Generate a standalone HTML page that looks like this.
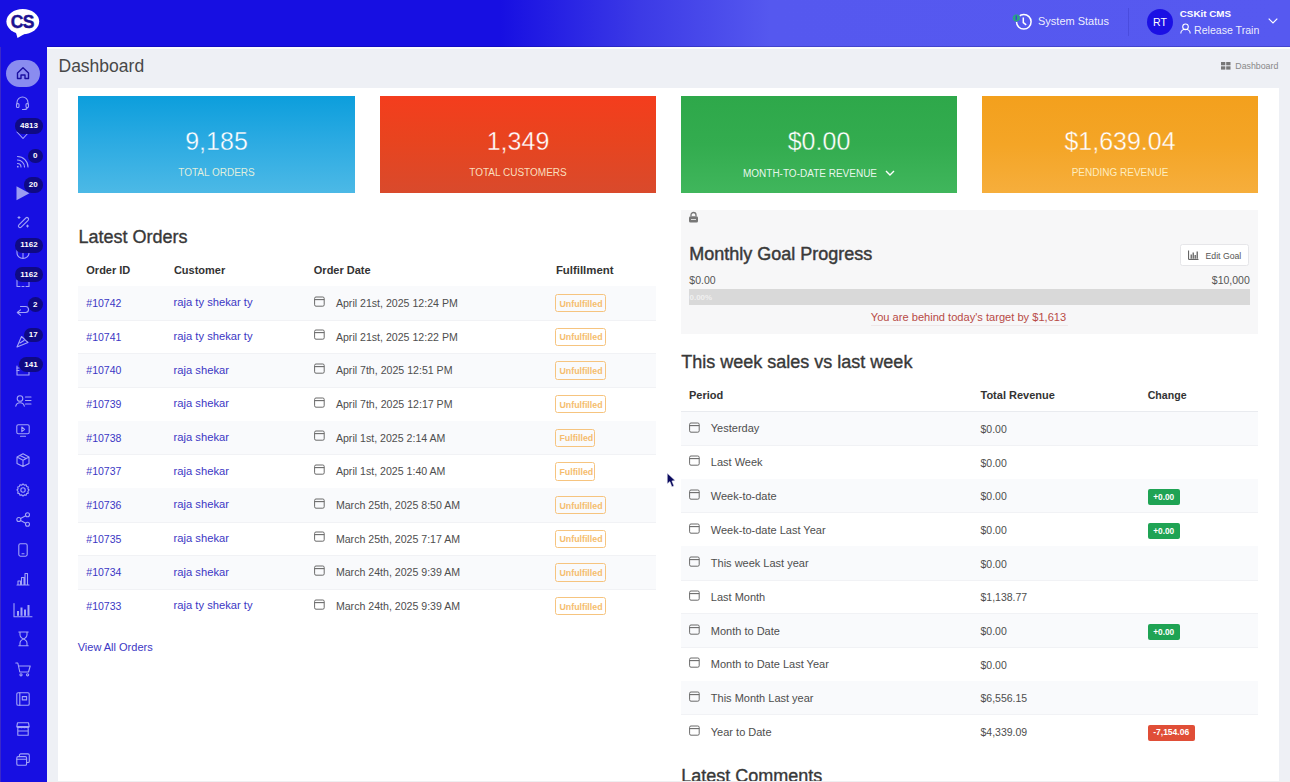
<!DOCTYPE html>
<html><head><meta charset="utf-8"><title>Dashboard</title><style>
*{margin:0;padding:0;box-sizing:border-box}
html,body{width:1290px;height:782px;overflow:hidden;background:#eef0f5;font-family:'Liberation Sans', sans-serif}
.t{position:absolute;white-space:nowrap;line-height:1}
.a{position:absolute}
svg{position:absolute;overflow:visible}
</style></head>
<body>
<div class="a" style="left:0;top:0;width:47px;height:782px;background:#170fe2"></div><div class="a" style="left:0;top:47px;width:1px;height:735px;background:#3a28c8"></div>
<div class="a" style="left:0;top:0;width:1290px;height:47px;background:linear-gradient(90deg,#170fe2 0px,#170fe2 500px,#3c3ae6 640px,#5558ef 770px,#5659f0 1290px)"></div>
<div class="a" style="left:47px;top:46px;width:1243px;height:1px;background:rgba(0,0,80,0.22)"></div><div class="a" style="left:47px;top:47px;width:1243px;height:1.5px;background:#fbfcfd"></div>
<svg style="left:0;top:0" width="47" height="47" viewBox="0 0 47 47">
<ellipse cx="22.8" cy="21.6" rx="16.4" ry="12.6" fill="#fff"/>
<path d="M15.5 31 L17.5 38 L27 32.5 Z" fill="#fff"/>
<text x="22.3" y="28.1" text-anchor="middle" font-family="Liberation Sans" font-weight="700" font-size="17.5" fill="#1c1290" stroke="#1c1290" stroke-width="0.45" letter-spacing="-0.6">CS</text>
</svg>
<div class="t" style="left:58.5px;top:57.69px;font-size:17.5px;color:#484848;font-weight:400;">Dashboard</div>
<svg style="left:1221px;top:62px" width="10" height="8" viewBox="0 0 10 8"><rect x="0" y="0" width="4.3" height="3.3" fill="#777"/><rect x="5.2" y="0" width="4.3" height="3.3" fill="#777"/><rect x="0" y="4.3" width="4.3" height="3.3" fill="#777"/><rect x="5.2" y="4.3" width="4.3" height="3.3" fill="#777"/></svg>
<div class="t" style="left:1235.3px;top:62.25px;font-size:8.8px;color:#888;font-weight:400;">Dashboard</div>
<div class="a" style="left:58px;top:88px;width:1220.5px;height:720px;background:#fff"></div>
<div class="a" style="left:78px;top:96px;width:277px;height:97px;background:linear-gradient(180deg,#0c9edc 0%,#2aaae2 45%,#4cb9e6 100%)"></div>
<div class="t" style="left:16.5px;width:400px;text-align:center;top:129.14px;font-size:25px;color:#fff;font-weight:400;-webkit-text-stroke:0.35px #26a8e1">9,185</div>
<div class="t" style="left:16.5px;width:400px;text-align:center;top:168.03px;font-size:10px;color:rgba(255,250,220,0.85);font-weight:400;">TOTAL ORDERS</div>
<div class="a" style="left:380px;top:96px;width:276px;height:97px;background:linear-gradient(180deg,#f43d1d 0%,#e8441f 45%,#d94a2c 100%)"></div>
<div class="t" style="left:318.0px;width:400px;text-align:center;top:129.14px;font-size:25px;color:#fff;font-weight:400;-webkit-text-stroke:0.35px #ea431f">1,349</div>
<div class="t" style="left:318.0px;width:400px;text-align:center;top:168.03px;font-size:10px;color:rgba(255,250,220,0.85);font-weight:400;">TOTAL CUSTOMERS</div>
<div class="a" style="left:681px;top:96px;width:276px;height:97px;background:linear-gradient(180deg,#2ea84a 0%,#33ac4f 50%,#40b65c 100%)"></div>
<div class="t" style="left:619.0px;width:400px;text-align:center;top:129.14px;font-size:25px;color:#fff;font-weight:400;-webkit-text-stroke:0.35px #32ab4e">$0.00</div>
<div class="t" style="left:610.0px;width:400px;text-align:center;top:168.94px;font-size:10px;color:rgba(255,255,255,0.9);font-weight:400;">MONTH-TO-DATE REVENUE</div>
<svg style="left:885px;top:170px" width="10" height="6" viewBox="0 0 10 6"><path d="M1 1 L5 5 L9 1" stroke="#fff" stroke-width="1.4" fill="none"/></svg>
<div class="a" style="left:982px;top:96px;width:276px;height:97px;background:linear-gradient(180deg,#f3a01d 0%,#f4a526 50%,#f6ae3c 100%)"></div>
<div class="t" style="left:920.0px;width:400px;text-align:center;top:129.14px;font-size:25px;color:#fff;font-weight:400;-webkit-text-stroke:0.35px #f4a425">$1,639.04</div>
<div class="t" style="left:920.0px;width:400px;text-align:center;top:168.03px;font-size:10px;color:rgba(255,250,220,0.85);font-weight:400;">PENDING REVENUE</div>
<div class="t" style="left:78.5px;top:228.06px;font-size:18px;color:#383838;font-weight:400;-webkit-text-stroke:0.35px #383838">Latest Orders</div>
<div class="t" style="left:86.3px;top:264.69px;font-size:11px;color:#333;font-weight:700;">Order ID</div>
<div class="t" style="left:173.9px;top:264.69px;font-size:11px;color:#333;font-weight:700;">Customer</div>
<div class="t" style="left:313.8px;top:264.69px;font-size:11px;color:#333;font-weight:700;">Order Date</div>
<div class="t" style="left:555.9px;top:265.15px;font-size:11.4px;color:#333;font-weight:700;">Fulfillment</div>
<div class="a" style="left:78px;top:285.9px;width:578px;height:1px;background:#e9ebef"></div>
<div class="a" style="left:78px;top:286.40px;width:578px;height:33.67px;background:#f9fafc"></div>
<div class="a" style="left:78px;top:319.57px;width:578px;height:1px;background:#f1f2f5"></div>
<div class="t" style="left:86.3px;top:297.91px;font-size:10.5px;color:#3b37c4;font-weight:400;">#10742</div>
<div class="t" style="left:173.6px;top:297.32px;font-size:11.2px;color:#3b37c4;font-weight:400;">raja ty shekar ty</div>
<svg style="left:314px;top:295.6px" width="11" height="11" viewBox="0 0 11 11"><rect x="0.6" y="1.0" width="9.6" height="9.2" rx="1.4" fill="none" stroke="#6a6a6a" stroke-width="1"/><line x1="0.6" y1="3.6" x2="10.2" y2="3.6" stroke="#6a6a6a" stroke-width="1.1"/></svg>
<div class="t" style="left:335.9px;top:297.83px;font-size:10.6px;color:#4e4e4e;font-weight:400;">April 21st, 2025 12:24 PM</div>
<div class="a" style="left:555.3px;top:294.00px;width:50.3px;height:18.4px;border:1px solid #f6c47f;border-radius:2.5px"></div>
<div class="t" style="left:559.5px;top:299.65px;font-size:8.8px;color:#f5bd6e;font-weight:700;">Unfulfilled</div>
<div class="a" style="left:78px;top:353.24px;width:578px;height:1px;background:#f1f2f5"></div>
<div class="t" style="left:86.3px;top:331.58px;font-size:10.5px;color:#3b37c4;font-weight:400;">#10741</div>
<div class="t" style="left:173.6px;top:330.99px;font-size:11.2px;color:#3b37c4;font-weight:400;">raja ty shekar ty</div>
<svg style="left:314px;top:329.27000000000004px" width="11" height="11" viewBox="0 0 11 11"><rect x="0.6" y="1.0" width="9.6" height="9.2" rx="1.4" fill="none" stroke="#6a6a6a" stroke-width="1"/><line x1="0.6" y1="3.6" x2="10.2" y2="3.6" stroke="#6a6a6a" stroke-width="1.1"/></svg>
<div class="t" style="left:335.9px;top:331.50px;font-size:10.6px;color:#4e4e4e;font-weight:400;">April 21st, 2025 12:22 PM</div>
<div class="a" style="left:555.3px;top:327.67px;width:50.3px;height:18.4px;border:1px solid #f6c47f;border-radius:2.5px"></div>
<div class="t" style="left:559.5px;top:333.32px;font-size:8.8px;color:#f5bd6e;font-weight:700;">Unfulfilled</div>
<div class="a" style="left:78px;top:353.74px;width:578px;height:33.67px;background:#f9fafc"></div>
<div class="a" style="left:78px;top:386.91px;width:578px;height:1px;background:#f1f2f5"></div>
<div class="t" style="left:86.3px;top:365.25px;font-size:10.5px;color:#3b37c4;font-weight:400;">#10740</div>
<div class="t" style="left:173.6px;top:364.66px;font-size:11.2px;color:#3b37c4;font-weight:400;">raja shekar</div>
<svg style="left:314px;top:362.94px" width="11" height="11" viewBox="0 0 11 11"><rect x="0.6" y="1.0" width="9.6" height="9.2" rx="1.4" fill="none" stroke="#6a6a6a" stroke-width="1"/><line x1="0.6" y1="3.6" x2="10.2" y2="3.6" stroke="#6a6a6a" stroke-width="1.1"/></svg>
<div class="t" style="left:335.9px;top:365.17px;font-size:10.6px;color:#4e4e4e;font-weight:400;">April 7th, 2025 12:51 PM</div>
<div class="a" style="left:555.3px;top:361.34px;width:50.3px;height:18.4px;border:1px solid #f6c47f;border-radius:2.5px"></div>
<div class="t" style="left:559.5px;top:366.99px;font-size:8.8px;color:#f5bd6e;font-weight:700;">Unfulfilled</div>
<div class="a" style="left:78px;top:420.58px;width:578px;height:1px;background:#f1f2f5"></div>
<div class="t" style="left:86.3px;top:398.92px;font-size:10.5px;color:#3b37c4;font-weight:400;">#10739</div>
<div class="t" style="left:173.6px;top:398.33px;font-size:11.2px;color:#3b37c4;font-weight:400;">raja shekar</div>
<svg style="left:314px;top:396.61px" width="11" height="11" viewBox="0 0 11 11"><rect x="0.6" y="1.0" width="9.6" height="9.2" rx="1.4" fill="none" stroke="#6a6a6a" stroke-width="1"/><line x1="0.6" y1="3.6" x2="10.2" y2="3.6" stroke="#6a6a6a" stroke-width="1.1"/></svg>
<div class="t" style="left:335.9px;top:398.84px;font-size:10.6px;color:#4e4e4e;font-weight:400;">April 7th, 2025 12:17 PM</div>
<div class="a" style="left:555.3px;top:395.01px;width:50.3px;height:18.4px;border:1px solid #f6c47f;border-radius:2.5px"></div>
<div class="t" style="left:559.5px;top:400.66px;font-size:8.8px;color:#f5bd6e;font-weight:700;">Unfulfilled</div>
<div class="a" style="left:78px;top:421.08px;width:578px;height:33.67px;background:#f9fafc"></div>
<div class="a" style="left:78px;top:454.25px;width:578px;height:1px;background:#f1f2f5"></div>
<div class="t" style="left:86.3px;top:432.59px;font-size:10.5px;color:#3b37c4;font-weight:400;">#10738</div>
<div class="t" style="left:173.6px;top:432.00px;font-size:11.2px;color:#3b37c4;font-weight:400;">raja shekar</div>
<svg style="left:314px;top:430.28000000000003px" width="11" height="11" viewBox="0 0 11 11"><rect x="0.6" y="1.0" width="9.6" height="9.2" rx="1.4" fill="none" stroke="#6a6a6a" stroke-width="1"/><line x1="0.6" y1="3.6" x2="10.2" y2="3.6" stroke="#6a6a6a" stroke-width="1.1"/></svg>
<div class="t" style="left:335.9px;top:432.51px;font-size:10.6px;color:#4e4e4e;font-weight:400;">April 1st, 2025 2:14 AM</div>
<div class="a" style="left:555.3px;top:428.68px;width:40px;height:18.4px;border:1px solid #f6c47f;border-radius:2.5px"></div>
<div class="t" style="left:559.5px;top:434.33px;font-size:8.8px;color:#f5bd6e;font-weight:700;">Fulfilled</div>
<div class="a" style="left:78px;top:487.92px;width:578px;height:1px;background:#f1f2f5"></div>
<div class="t" style="left:86.3px;top:466.26px;font-size:10.5px;color:#3b37c4;font-weight:400;">#10737</div>
<div class="t" style="left:173.6px;top:465.67px;font-size:11.2px;color:#3b37c4;font-weight:400;">raja shekar</div>
<svg style="left:314px;top:463.95000000000005px" width="11" height="11" viewBox="0 0 11 11"><rect x="0.6" y="1.0" width="9.6" height="9.2" rx="1.4" fill="none" stroke="#6a6a6a" stroke-width="1"/><line x1="0.6" y1="3.6" x2="10.2" y2="3.6" stroke="#6a6a6a" stroke-width="1.1"/></svg>
<div class="t" style="left:335.9px;top:466.18px;font-size:10.6px;color:#4e4e4e;font-weight:400;">April 1st, 2025 1:40 AM</div>
<div class="a" style="left:555.3px;top:462.35px;width:40px;height:18.4px;border:1px solid #f6c47f;border-radius:2.5px"></div>
<div class="t" style="left:559.5px;top:468.00px;font-size:8.8px;color:#f5bd6e;font-weight:700;">Fulfilled</div>
<div class="a" style="left:78px;top:488.42px;width:578px;height:33.67px;background:#f9fafc"></div>
<div class="a" style="left:78px;top:521.59px;width:578px;height:1px;background:#f1f2f5"></div>
<div class="t" style="left:86.3px;top:499.93px;font-size:10.5px;color:#3b37c4;font-weight:400;">#10736</div>
<div class="t" style="left:173.6px;top:499.34px;font-size:11.2px;color:#3b37c4;font-weight:400;">raja shekar</div>
<svg style="left:314px;top:497.62000000000006px" width="11" height="11" viewBox="0 0 11 11"><rect x="0.6" y="1.0" width="9.6" height="9.2" rx="1.4" fill="none" stroke="#6a6a6a" stroke-width="1"/><line x1="0.6" y1="3.6" x2="10.2" y2="3.6" stroke="#6a6a6a" stroke-width="1.1"/></svg>
<div class="t" style="left:335.9px;top:499.85px;font-size:10.6px;color:#4e4e4e;font-weight:400;">March 25th, 2025 8:50 AM</div>
<div class="a" style="left:555.3px;top:496.02px;width:50.3px;height:18.4px;border:1px solid #f6c47f;border-radius:2.5px"></div>
<div class="t" style="left:559.5px;top:501.67px;font-size:8.8px;color:#f5bd6e;font-weight:700;">Unfulfilled</div>
<div class="a" style="left:78px;top:555.26px;width:578px;height:1px;background:#f1f2f5"></div>
<div class="t" style="left:86.3px;top:533.60px;font-size:10.5px;color:#3b37c4;font-weight:400;">#10735</div>
<div class="t" style="left:173.6px;top:533.01px;font-size:11.2px;color:#3b37c4;font-weight:400;">raja shekar</div>
<svg style="left:314px;top:531.29px" width="11" height="11" viewBox="0 0 11 11"><rect x="0.6" y="1.0" width="9.6" height="9.2" rx="1.4" fill="none" stroke="#6a6a6a" stroke-width="1"/><line x1="0.6" y1="3.6" x2="10.2" y2="3.6" stroke="#6a6a6a" stroke-width="1.1"/></svg>
<div class="t" style="left:335.9px;top:533.52px;font-size:10.6px;color:#4e4e4e;font-weight:400;">March 25th, 2025 7:17 AM</div>
<div class="a" style="left:555.3px;top:529.69px;width:50.3px;height:18.4px;border:1px solid #f6c47f;border-radius:2.5px"></div>
<div class="t" style="left:559.5px;top:535.34px;font-size:8.8px;color:#f5bd6e;font-weight:700;">Unfulfilled</div>
<div class="a" style="left:78px;top:555.76px;width:578px;height:33.67px;background:#f9fafc"></div>
<div class="a" style="left:78px;top:588.93px;width:578px;height:1px;background:#f1f2f5"></div>
<div class="t" style="left:86.3px;top:567.27px;font-size:10.5px;color:#3b37c4;font-weight:400;">#10734</div>
<div class="t" style="left:173.6px;top:566.68px;font-size:11.2px;color:#3b37c4;font-weight:400;">raja shekar</div>
<svg style="left:314px;top:564.96px" width="11" height="11" viewBox="0 0 11 11"><rect x="0.6" y="1.0" width="9.6" height="9.2" rx="1.4" fill="none" stroke="#6a6a6a" stroke-width="1"/><line x1="0.6" y1="3.6" x2="10.2" y2="3.6" stroke="#6a6a6a" stroke-width="1.1"/></svg>
<div class="t" style="left:335.9px;top:567.19px;font-size:10.6px;color:#4e4e4e;font-weight:400;">March 24th, 2025 9:39 AM</div>
<div class="a" style="left:555.3px;top:563.36px;width:50.3px;height:18.4px;border:1px solid #f6c47f;border-radius:2.5px"></div>
<div class="t" style="left:559.5px;top:569.01px;font-size:8.8px;color:#f5bd6e;font-weight:700;">Unfulfilled</div>
<div class="t" style="left:86.3px;top:600.94px;font-size:10.5px;color:#3b37c4;font-weight:400;">#10733</div>
<div class="t" style="left:173.6px;top:600.35px;font-size:11.2px;color:#3b37c4;font-weight:400;">raja ty shekar ty</div>
<svg style="left:314px;top:598.63px" width="11" height="11" viewBox="0 0 11 11"><rect x="0.6" y="1.0" width="9.6" height="9.2" rx="1.4" fill="none" stroke="#6a6a6a" stroke-width="1"/><line x1="0.6" y1="3.6" x2="10.2" y2="3.6" stroke="#6a6a6a" stroke-width="1.1"/></svg>
<div class="t" style="left:335.9px;top:600.86px;font-size:10.6px;color:#4e4e4e;font-weight:400;">March 24th, 2025 9:39 AM</div>
<div class="a" style="left:555.3px;top:597.03px;width:50.3px;height:18.4px;border:1px solid #f6c47f;border-radius:2.5px"></div>
<div class="t" style="left:559.5px;top:602.68px;font-size:8.8px;color:#f5bd6e;font-weight:700;">Unfulfilled</div>
<div class="t" style="left:77.7px;top:641.59px;font-size:11px;color:#3b37c4;font-weight:400;">View All Orders</div>
<div class="a" style="left:680.5px;top:209.8px;width:577.5px;height:124.5px;background:#f7f7f8"></div>
<svg style="left:688px;top:212px" width="11" height="11" viewBox="0 0 11 11"><path d="M3 4.2 V3 a2.5 2.5 0 0 1 5 0 V4.2" stroke="#777" stroke-width="1.3" fill="none"/><rect x="1" y="4.2" width="9" height="6.3" rx="1.5" fill="#777"/><rect x="3" y="7" width="5" height="1" fill="#ddd"/></svg>
<div class="t" style="left:689.3px;top:244.76px;font-size:18px;color:#3a3a3a;font-weight:400;-webkit-text-stroke:0.45px #3a3a3a">Monthly Goal Progress</div>
<div class="a" style="left:1180.4px;top:243.6px;width:69px;height:22.7px;background:#fff;border:1px solid #e6e6e9;border-radius:2.5px"></div>
<svg style="left:1188px;top:250px" width="11" height="10" viewBox="0 0 11 10"><path d="M0.6 0.5 V9.4 H10.5" stroke="#555" stroke-width="1" fill="none"/><rect x="2.6" y="4.5" width="1.2" height="4.2" fill="#555"/><rect x="4.6" y="2.5" width="1.2" height="6.2" fill="#555"/><rect x="6.6" y="5" width="1.2" height="3.7" fill="#555"/><rect x="8.6" y="1.5" width="1.2" height="7.2" fill="#555"/></svg>
<div class="t" style="left:1205.5px;top:251.64px;font-size:8.7px;color:#555;font-weight:400;">Edit Goal</div>
<div class="t" style="left:689.3px;top:275.21px;font-size:10.5px;color:#555;font-weight:400;">$0.00</div>
<div class="t" style="right:40.200000000000045px;top:275.21px;font-size:10.5px;color:#555;font-weight:400;text-align:right;">$10,000</div>
<div class="a" style="left:689px;top:289px;width:560.5px;height:15.7px;background:#d9d9d9"></div>
<div class="t" style="left:689.5px;top:293.53px;font-size:8px;color:rgba(255,255,255,0.6);font-weight:700;">0.00%</div>
<div class="t" style="left:768.5px;width:400px;text-align:center;top:312.40px;font-size:11.1px;color:#b84a45;font-weight:400;">You are behind today's target by $1,613</div>
<div class="a" style="left:871px;top:325px;width:197px;height:1px;background:#eee7e7"></div>
<div class="t" style="left:681.3px;top:353.06px;font-size:18px;color:#383838;font-weight:400;-webkit-text-stroke:0.35px #383838">This week sales vs last week</div>
<div class="t" style="left:689px;top:389.69px;font-size:11px;color:#333;font-weight:700;">Period</div>
<div class="t" style="left:980.5px;top:389.69px;font-size:11px;color:#333;font-weight:700;">Total Revenue</div>
<div class="t" style="left:1147.7px;top:390.03px;font-size:10.6px;color:#333;font-weight:700;">Change</div>
<div class="a" style="left:681px;top:411.2px;width:577px;height:1px;background:#e9ebef"></div>
<div class="a" style="left:681px;top:411.70px;width:577px;height:33.67px;background:#f9fafc"></div>
<div class="a" style="left:681px;top:444.87px;width:577px;height:1px;background:#f1f2f5"></div>
<svg style="left:689px;top:421.6px" width="11" height="11" viewBox="0 0 11 11"><rect x="0.6" y="1.0" width="9.6" height="9.2" rx="1.4" fill="none" stroke="#6a6a6a" stroke-width="1"/><line x1="0.6" y1="3.6" x2="10.2" y2="3.6" stroke="#6a6a6a" stroke-width="1.1"/></svg>
<div class="t" style="left:710.8px;top:423.49px;font-size:11px;color:#4e4e4e;font-weight:400;">Yesterday</div>
<div class="t" style="left:980.5px;top:423.91px;font-size:10.5px;color:#4e4e4e;font-weight:400;">$0.00</div>
<div class="a" style="left:681px;top:478.54px;width:577px;height:1px;background:#f1f2f5"></div>
<svg style="left:689px;top:455.27000000000004px" width="11" height="11" viewBox="0 0 11 11"><rect x="0.6" y="1.0" width="9.6" height="9.2" rx="1.4" fill="none" stroke="#6a6a6a" stroke-width="1"/><line x1="0.6" y1="3.6" x2="10.2" y2="3.6" stroke="#6a6a6a" stroke-width="1.1"/></svg>
<div class="t" style="left:710.8px;top:457.16px;font-size:11px;color:#4e4e4e;font-weight:400;">Last Week</div>
<div class="t" style="left:980.5px;top:457.58px;font-size:10.5px;color:#4e4e4e;font-weight:400;">$0.00</div>
<div class="a" style="left:681px;top:479.04px;width:577px;height:33.67px;background:#f9fafc"></div>
<div class="a" style="left:681px;top:512.21px;width:577px;height:1px;background:#f1f2f5"></div>
<svg style="left:689px;top:488.94px" width="11" height="11" viewBox="0 0 11 11"><rect x="0.6" y="1.0" width="9.6" height="9.2" rx="1.4" fill="none" stroke="#6a6a6a" stroke-width="1"/><line x1="0.6" y1="3.6" x2="10.2" y2="3.6" stroke="#6a6a6a" stroke-width="1.1"/></svg>
<div class="t" style="left:710.8px;top:490.83px;font-size:11px;color:#4e4e4e;font-weight:400;">Week-to-date</div>
<div class="t" style="left:980.5px;top:491.25px;font-size:10.5px;color:#4e4e4e;font-weight:400;">$0.00</div>
<div class="a" style="left:1147.7px;top:488.94px;width:32px;height:16px;background:#1fa354;border-radius:2px"></div>
<div class="t" style="left:963.7px;width:400px;text-align:center;top:492.91px;font-size:8.3px;color:#fff;font-weight:700;">+0.00</div>
<div class="a" style="left:681px;top:545.88px;width:577px;height:1px;background:#f1f2f5"></div>
<svg style="left:689px;top:522.61px" width="11" height="11" viewBox="0 0 11 11"><rect x="0.6" y="1.0" width="9.6" height="9.2" rx="1.4" fill="none" stroke="#6a6a6a" stroke-width="1"/><line x1="0.6" y1="3.6" x2="10.2" y2="3.6" stroke="#6a6a6a" stroke-width="1.1"/></svg>
<div class="t" style="left:710.8px;top:524.50px;font-size:11px;color:#4e4e4e;font-weight:400;">Week-to-date Last Year</div>
<div class="t" style="left:980.5px;top:524.92px;font-size:10.5px;color:#4e4e4e;font-weight:400;">$0.00</div>
<div class="a" style="left:1147.7px;top:522.61px;width:32px;height:16px;background:#1fa354;border-radius:2px"></div>
<div class="t" style="left:963.7px;width:400px;text-align:center;top:526.58px;font-size:8.3px;color:#fff;font-weight:700;">+0.00</div>
<div class="a" style="left:681px;top:546.38px;width:577px;height:33.67px;background:#f9fafc"></div>
<div class="a" style="left:681px;top:579.55px;width:577px;height:1px;background:#f1f2f5"></div>
<svg style="left:689px;top:556.28px" width="11" height="11" viewBox="0 0 11 11"><rect x="0.6" y="1.0" width="9.6" height="9.2" rx="1.4" fill="none" stroke="#6a6a6a" stroke-width="1"/><line x1="0.6" y1="3.6" x2="10.2" y2="3.6" stroke="#6a6a6a" stroke-width="1.1"/></svg>
<div class="t" style="left:710.8px;top:558.17px;font-size:11px;color:#4e4e4e;font-weight:400;">This week Last year</div>
<div class="t" style="left:980.5px;top:558.59px;font-size:10.5px;color:#4e4e4e;font-weight:400;">$0.00</div>
<div class="a" style="left:681px;top:613.22px;width:577px;height:1px;background:#f1f2f5"></div>
<svg style="left:689px;top:589.95px" width="11" height="11" viewBox="0 0 11 11"><rect x="0.6" y="1.0" width="9.6" height="9.2" rx="1.4" fill="none" stroke="#6a6a6a" stroke-width="1"/><line x1="0.6" y1="3.6" x2="10.2" y2="3.6" stroke="#6a6a6a" stroke-width="1.1"/></svg>
<div class="t" style="left:710.8px;top:591.84px;font-size:11px;color:#4e4e4e;font-weight:400;">Last Month</div>
<div class="t" style="left:980.5px;top:592.26px;font-size:10.5px;color:#4e4e4e;font-weight:400;">$1,138.77</div>
<div class="a" style="left:681px;top:613.72px;width:577px;height:33.67px;background:#f9fafc"></div>
<div class="a" style="left:681px;top:646.89px;width:577px;height:1px;background:#f1f2f5"></div>
<svg style="left:689px;top:623.62px" width="11" height="11" viewBox="0 0 11 11"><rect x="0.6" y="1.0" width="9.6" height="9.2" rx="1.4" fill="none" stroke="#6a6a6a" stroke-width="1"/><line x1="0.6" y1="3.6" x2="10.2" y2="3.6" stroke="#6a6a6a" stroke-width="1.1"/></svg>
<div class="t" style="left:710.8px;top:625.51px;font-size:11px;color:#4e4e4e;font-weight:400;">Month to Date</div>
<div class="t" style="left:980.5px;top:625.93px;font-size:10.5px;color:#4e4e4e;font-weight:400;">$0.00</div>
<div class="a" style="left:1147.7px;top:623.62px;width:32px;height:16px;background:#1fa354;border-radius:2px"></div>
<div class="t" style="left:963.7px;width:400px;text-align:center;top:627.59px;font-size:8.3px;color:#fff;font-weight:700;">+0.00</div>
<div class="a" style="left:681px;top:680.56px;width:577px;height:1px;background:#f1f2f5"></div>
<svg style="left:689px;top:657.29px" width="11" height="11" viewBox="0 0 11 11"><rect x="0.6" y="1.0" width="9.6" height="9.2" rx="1.4" fill="none" stroke="#6a6a6a" stroke-width="1"/><line x1="0.6" y1="3.6" x2="10.2" y2="3.6" stroke="#6a6a6a" stroke-width="1.1"/></svg>
<div class="t" style="left:710.8px;top:659.18px;font-size:11px;color:#4e4e4e;font-weight:400;">Month to Date Last Year</div>
<div class="t" style="left:980.5px;top:659.60px;font-size:10.5px;color:#4e4e4e;font-weight:400;">$0.00</div>
<div class="a" style="left:681px;top:681.06px;width:577px;height:33.67px;background:#f9fafc"></div>
<div class="a" style="left:681px;top:714.23px;width:577px;height:1px;background:#f1f2f5"></div>
<svg style="left:689px;top:690.96px" width="11" height="11" viewBox="0 0 11 11"><rect x="0.6" y="1.0" width="9.6" height="9.2" rx="1.4" fill="none" stroke="#6a6a6a" stroke-width="1"/><line x1="0.6" y1="3.6" x2="10.2" y2="3.6" stroke="#6a6a6a" stroke-width="1.1"/></svg>
<div class="t" style="left:710.8px;top:692.85px;font-size:11px;color:#4e4e4e;font-weight:400;">This Month Last year</div>
<div class="t" style="left:980.5px;top:693.27px;font-size:10.5px;color:#4e4e4e;font-weight:400;">$6,556.15</div>
<svg style="left:689px;top:724.63px" width="11" height="11" viewBox="0 0 11 11"><rect x="0.6" y="1.0" width="9.6" height="9.2" rx="1.4" fill="none" stroke="#6a6a6a" stroke-width="1"/><line x1="0.6" y1="3.6" x2="10.2" y2="3.6" stroke="#6a6a6a" stroke-width="1.1"/></svg>
<div class="t" style="left:710.8px;top:726.52px;font-size:11px;color:#4e4e4e;font-weight:400;">Year to Date</div>
<div class="t" style="left:980.5px;top:726.94px;font-size:10.5px;color:#4e4e4e;font-weight:400;">$4,339.09</div>
<div class="a" style="left:1147.7px;top:724.63px;width:47.6px;height:16px;background:#e04e37;border-radius:2px"></div>
<div class="t" style="left:971.2px;width:400px;text-align:center;top:728.43px;font-size:8.5px;color:#fff;font-weight:700;">-7,154.06</div>
<div class="t" style="left:681.3px;top:767.26px;font-size:18px;color:#383838;font-weight:400;-webkit-text-stroke:0.35px #383838">Latest Comments</div>
<svg style="left:1011px;top:12px" width="22" height="19" viewBox="0 0 22 19">
<circle cx="12.8" cy="9.8" r="7.3" stroke="#fff" stroke-width="1.5" fill="none"/>
<path d="M12.3 5.6 V10.6 L15.2 12.9" stroke="#fff" stroke-width="1.5" fill="none"/>
<circle cx="5.3" cy="6" r="4" fill="#5559ef"/>
<circle cx="5.3" cy="6" r="3.3" fill="#29a383" stroke="#2fb07a" stroke-width="1" stroke-dasharray="1 1"/>
<rect x="4.6" y="3.6" width="1.4" height="4.2" fill="#3b3fd8"/>
</svg>
<div class="t" style="left:1038px;top:16.49px;font-size:11px;color:rgba(255,255,255,0.92);font-weight:400;">System Status</div>
<div class="a" style="left:1128px;top:8px;width:1px;height:28px;background:rgba(60,60,200,0.45)"></div>
<div class="a" style="left:1147px;top:9px;width:26px;height:26px;border-radius:50%;background:#1b10e4"></div>
<div class="t" style="left:960px;width:400px;text-align:center;top:17.11px;font-size:10.5px;color:#fff;font-weight:400;">RT</div>
<div class="t" style="left:1179.8px;top:9.20px;font-size:9.8px;color:#fff;font-weight:700;">CSKit CMS</div>
<svg style="left:1180px;top:23px" width="11" height="11" viewBox="0 0 11 11"><circle cx="5.5" cy="3.8" r="2.8" stroke="#fff" stroke-width="1.1" fill="none"/><path d="M0.8 10.5 a4.7 4.2 0 0 1 9.4 0" stroke="#fff" stroke-width="1.1" fill="none"/></svg>
<div class="t" style="left:1194px;top:25.23px;font-size:10.6px;color:rgba(255,255,255,0.9);font-weight:400;">Release Train</div>
<svg style="left:1268px;top:18px" width="10" height="6" viewBox="0 0 10 6"><path d="M0.7 0.7 L5 5 L9.3 0.7" stroke="#fff" stroke-width="1.2" fill="none"/></svg>
<div class="a" style="left:6px;top:60px;width:34px;height:27px;border-radius:13.5px;background:#8a8cf0"></div>
<svg style="left:16px;top:66px" width="14" height="14" viewBox="0 0 14 14"><path d="M1.5 7 L7 1.8 L12.5 7 V12.5 H9 V9 H5 V12.5 H1.5 Z" stroke="#1b10a0" stroke-width="1.4" fill="none" stroke-linejoin="round"/></svg>
<svg style="left:15px;top:96px" width="15" height="15" viewBox="0 0 15 15"><path d="M2 8 V6.5 a5.5 5.5 0 0 1 11 0 V8" stroke="#a3a4f7" stroke-width="1.1" fill="none" stroke-linecap="round" stroke-linejoin="round"/><rect x="1.5" y="7.5" width="2.5" height="4" rx="1" stroke="#a3a4f7" stroke-width="1.1" fill="none" stroke-linecap="round" stroke-linejoin="round"/><rect x="11" y="7.5" width="2.5" height="4" rx="1" stroke="#a3a4f7" stroke-width="1.1" fill="none" stroke-linecap="round" stroke-linejoin="round"/><path d="M12.3 11.5 Q12.3 13.5 9 13.5 H7.5" stroke="#a3a4f7" stroke-width="1.1" fill="none" stroke-linecap="round" stroke-linejoin="round"/></svg>
<svg style="left:16px;top:131px" width="14" height="9" viewBox="0 0 14 9"><path d="M1 1 L7 7.5 L13 1" stroke="#a3a4f7" stroke-width="1.1" fill="none" stroke-linecap="round" stroke-linejoin="round"/></svg>
<svg style="left:16px;top:155px" width="13" height="13" viewBox="0 0 13 13"><path d="M1.5 5 a7 7 0 0 1 7 7" stroke="#a3a4f7" stroke-width="1.1" fill="none" stroke-linecap="round" stroke-linejoin="round"/><path d="M1.5 1.5 a10.5 10.5 0 0 1 10.5 10.5" stroke="#a3a4f7" stroke-width="1.1" fill="none" stroke-linecap="round" stroke-linejoin="round"/><path d="M1.5 8.5 a3.5 3.5 0 0 1 3.5 3.5" stroke="#a3a4f7" stroke-width="1.1" fill="none" stroke-linecap="round" stroke-linejoin="round"/><circle cx="1.8" cy="11.7" r="0.9" fill="#a3a4f7"/></svg>
<svg style="left:15.5px;top:186px" width="14" height="15" viewBox="0 0 14 15"><path d="M0.5 0.2 L13.5 7.2 L0.5 14.2 Z" fill="#9a9cf2"/></svg>
<svg style="left:16px;top:215px" width="15" height="14" viewBox="0 0 15 14"><rect x="1" y="6" width="13" height="3.2" rx="1.6" transform="rotate(-45 7.5 7.6)" stroke="#a3a4f7" stroke-width="1.1" fill="none" stroke-linecap="round" stroke-linejoin="round"/><path d="M3 1.5 v2 M2 2.5 h2 M11.5 10 v2 M10.5 11 h2" stroke="#a3a4f7" stroke-width="1.1" fill="none" stroke-linecap="round" stroke-linejoin="round"/></svg>
<svg style="left:15.5px;top:248px" width="14" height="12" viewBox="0 0 14 12"><path d="M1 1 V5 a6 5.5 0 0 0 12 0 V1 M7 4 V10.5" stroke="#a3a4f7" stroke-width="1.1" fill="none" stroke-linecap="round" stroke-linejoin="round"/></svg>
<svg style="left:15.5px;top:277px" width="14" height="11" viewBox="0 0 14 11"><path d="M1 3 V9.5 H4 M6 9.5 H8 M10 9.5 H13 V3" stroke="#a3a4f7" stroke-width="1.1" fill="none" stroke-linecap="round" stroke-linejoin="round"/></svg>
<svg style="left:15.5px;top:305px" width="14" height="14" viewBox="0 0 14 14"><path d="M4.5 1.5 H9.5 a3 3 0 0 1 0 6 H1.5 M4.5 4.8 L1.3 7.5 L4.5 10.2" stroke="#a3a4f7" stroke-width="1.1" fill="none" stroke-linecap="round" stroke-linejoin="round"/></svg>
<svg style="left:16px;top:336px" width="13" height="12" viewBox="0 0 13 12"><path d="M1 11 L12 6.5 L5.5 0.5 Z M4 7 L8 4.5" stroke="#a3a4f7" stroke-width="1.1" fill="none" stroke-linecap="round" stroke-linejoin="round"/></svg>
<svg style="left:15px;top:365px" width="15" height="11" viewBox="0 0 15 11"><path d="M2 1 V10 H14 V6" stroke="#a3a4f7" stroke-width="1.1" fill="none" stroke-linecap="round" stroke-linejoin="round"/><path d="M2 3 H4 M2 5.5 H4" stroke="#a3a4f7" stroke-width="1.1" fill="none" stroke-linecap="round" stroke-linejoin="round"/></svg>
<svg style="left:15px;top:395px" width="17" height="12" viewBox="0 0 17 12"><circle cx="5" cy="3.5" r="2.8" stroke="#a3a4f7" stroke-width="1.1" fill="none" stroke-linecap="round" stroke-linejoin="round"/><path d="M0.8 11.2 a4.3 4 0 0 1 8.5 0" stroke="#a3a4f7" stroke-width="1.1" fill="none" stroke-linecap="round" stroke-linejoin="round"/><path d="M10.5 2 H16 M10.5 5.5 H16 M10.5 9 H16" stroke="#a3a4f7" stroke-width="1.1" fill="none" stroke-linecap="round" stroke-linejoin="round"/></svg>
<svg style="left:16px;top:424px" width="14" height="13" viewBox="0 0 14 13"><rect x="0.8" y="0.8" width="12.4" height="9" rx="1.5" stroke="#a3a4f7" stroke-width="1.1" fill="none" stroke-linecap="round" stroke-linejoin="round"/><path d="M5.8 3 L8.6 5.3 L5.8 7.6 Z" stroke="#a3a4f7" stroke-width="1.1" fill="none" stroke-linecap="round" stroke-linejoin="round"/><path d="M4.5 12.2 H9.5" stroke="#a3a4f7" stroke-width="1.1" fill="none" stroke-linecap="round" stroke-linejoin="round"/></svg>
<svg style="left:16px;top:453px" width="14" height="14" viewBox="0 0 14 14"><path d="M7 0.8 L13 4 V10.5 L7 13.5 L1 10.5 V4 Z M1 4 L7 7.2 L13 4 M7 7.2 V13.5 M4 2.4 L10 5.6" stroke="#a3a4f7" stroke-width="1.1" fill="none" stroke-linecap="round" stroke-linejoin="round"/></svg>
<svg style="left:15.5px;top:483px" width="14" height="14" viewBox="0 0 14 14"><circle cx="7" cy="7" r="2.2" stroke="#a3a4f7" stroke-width="1.1" fill="none" stroke-linecap="round" stroke-linejoin="round"/><path d="M7 0.9 L8.3 2.1 L10.1 1.7 L10.6 3.4 L12.3 4 L11.9 5.8 L13.1 7 L11.9 8.3 L12.3 10.1 L10.6 10.6 L10.1 12.3 L8.3 11.9 L7 13.1 L5.8 11.9 L4 12.3 L3.4 10.6 L1.7 10.1 L2.1 8.3 L0.9 7 L2.1 5.8 L1.7 4 L3.4 3.4 L4 1.7 L5.8 2.1 Z" stroke="#a3a4f7" stroke-width="1.1" fill="none" stroke-linecap="round" stroke-linejoin="round"/></svg>
<svg style="left:15.5px;top:512px" width="15" height="15" viewBox="0 0 15 15"><circle cx="2.8" cy="7.5" r="2" stroke="#a3a4f7" stroke-width="1.1" fill="none" stroke-linecap="round" stroke-linejoin="round"/><circle cx="11.5" cy="2.8" r="2" stroke="#a3a4f7" stroke-width="1.1" fill="none" stroke-linecap="round" stroke-linejoin="round"/><circle cx="11.5" cy="12.2" r="2" stroke="#a3a4f7" stroke-width="1.1" fill="none" stroke-linecap="round" stroke-linejoin="round"/><path d="M4.6 6.5 L9.7 3.8 M4.6 8.5 L9.7 11.2" stroke="#a3a4f7" stroke-width="1.1" fill="none" stroke-linecap="round" stroke-linejoin="round"/></svg>
<svg style="left:18px;top:543px" width="10" height="14" viewBox="0 0 10 14"><rect x="0.8" y="0.8" width="8.4" height="12.4" rx="1.6" stroke="#a3a4f7" stroke-width="1.1" fill="none" stroke-linecap="round" stroke-linejoin="round"/><path d="M4 10.8 H6" stroke="#a3a4f7" stroke-width="1.1" fill="none" stroke-linecap="round" stroke-linejoin="round"/></svg>
<svg style="left:16px;top:572px" width="14" height="14" viewBox="0 0 14 14"><path d="M1 13 H13 M2 13 V9 H4.5 V13 M5.5 13 V5.5 H8 V13 M9 13 V1.5 H11.5 V13" stroke="#a3a4f7" stroke-width="1.1" fill="none" stroke-linecap="round" stroke-linejoin="round"/></svg>
<svg style="left:13px;top:603px" width="20" height="15" viewBox="0 0 20 15"><path d="M1 0.5 V13.8 H19" stroke="#a3a4f7" stroke-width="1.1" fill="none" stroke-linecap="round" stroke-linejoin="round" stroke-width="1.2"/><rect x="4" y="8" width="2" height="4.8" fill="#a3a4f7"/><rect x="7.5" y="4.5" width="2" height="8.3" fill="#a3a4f7"/><rect x="11" y="6.5" width="2" height="6.3" fill="#a3a4f7"/><rect x="14.5" y="2" width="2" height="10.8" fill="#a3a4f7"/></svg>
<svg style="left:17.5px;top:630.5px" width="11" height="16" viewBox="0 0 11 16"><path d="M0.8 1 H10.2 M0.8 14.8 H10.2 M2 1 V3.5 Q2 6.5 5.5 7.9 Q9 6.5 9 3.5 V1 M2 14.8 V12.3 Q2 9.3 5.5 7.9 Q9 9.3 9 12.3 V14.8" stroke="#a3a4f7" stroke-width="1.1" fill="none" stroke-linecap="round" stroke-linejoin="round"/></svg>
<svg style="left:15px;top:661.5px" width="16" height="15" viewBox="0 0 16 15"><path d="M0.8 1 H2.8 L4.8 10 H13.5 L15.2 4 H3.6" stroke="#a3a4f7" stroke-width="1.1" fill="none" stroke-linecap="round" stroke-linejoin="round"/><circle cx="6" cy="12.8" r="1.1" stroke="#a3a4f7" stroke-width="1.1" fill="none" stroke-linecap="round" stroke-linejoin="round"/><circle cx="12.6" cy="12.8" r="1.1" stroke="#a3a4f7" stroke-width="1.1" fill="none" stroke-linecap="round" stroke-linejoin="round"/></svg>
<svg style="left:16px;top:691.5px" width="14" height="14" viewBox="0 0 14 14"><rect x="0.8" y="0.8" width="12.4" height="12.4" rx="1.3" stroke="#a3a4f7" stroke-width="1.1" fill="none" stroke-linecap="round" stroke-linejoin="round"/><path d="M3.8 0.8 V13.2" stroke="#a3a4f7" stroke-width="1.1" fill="none" stroke-linecap="round" stroke-linejoin="round"/><rect x="6.3" y="4.6" width="4.3" height="3.3" stroke="#a3a4f7" stroke-width="1.1" fill="none" stroke-linecap="round" stroke-linejoin="round"/></svg>
<svg style="left:16px;top:721.5px" width="14" height="14" viewBox="0 0 14 14"><path d="M1.5 0.8 H12.5 L13.2 4.6 H0.8 Z M0.8 4.6 a1.6 1.6 0 0 0 3.1 0 a1.6 1.6 0 0 0 3.1 0 a1.6 1.6 0 0 0 3.1 0 a1.6 1.6 0 0 0 3.1 0 M1.8 6.5 V13.2 H12.2 V6.5 M1.8 9 H12.2" stroke="#a3a4f7" stroke-width="1.1" fill="none" stroke-linecap="round" stroke-linejoin="round"/></svg>
<svg style="left:16px;top:752.5px" width="14" height="13" viewBox="0 0 14 13"><rect x="0.8" y="3.6" width="9.8" height="8.6" rx="1.3" stroke="#a3a4f7" stroke-width="1.1" fill="none" stroke-linecap="round" stroke-linejoin="round"/><path d="M0.8 6.2 H10.6" stroke="#a3a4f7" stroke-width="1.1" fill="none" stroke-linecap="round" stroke-linejoin="round"/><path d="M3.4 3.6 V2.2 a1.3 1.3 0 0 1 1.3-1.3 H12 a1.3 1.3 0 0 1 1.3 1.3 V8.2 a1.3 1.3 0 0 1-1.3 1.3 H10.6" stroke="#a3a4f7" stroke-width="1.1" fill="none" stroke-linecap="round" stroke-linejoin="round"/></svg>
<div class="a" style="left:15px;top:118.4px;width:27.9px;height:15.5px;border-radius:7.75px;background:#0f0a84"></div><div class="t" style="left:-171.05px;width:400px;text-align:center;top:122.38px;font-size:8px;color:#fff;font-weight:700;">4813</div>
<div class="a" style="left:27.6px;top:148.6px;width:15.3px;height:14.6px;border-radius:7.3px;background:#0f0a84"></div><div class="t" style="left:-164.75px;width:400px;text-align:center;top:152.13px;font-size:8px;color:#fff;font-weight:700;">0</div>
<div class="a" style="left:23.6px;top:177.4px;width:19.3px;height:15.6px;border-radius:7.8px;background:#0f0a84"></div><div class="t" style="left:-166.75px;width:400px;text-align:center;top:181.43px;font-size:8px;color:#fff;font-weight:700;">20</div>
<div class="a" style="left:15px;top:238px;width:27.9px;height:14.5px;border-radius:7.25px;background:#0f0a84"></div><div class="t" style="left:-171.05px;width:400px;text-align:center;top:241.48px;font-size:8px;color:#fff;font-weight:700;">1162</div>
<div class="a" style="left:15px;top:267.4px;width:27.9px;height:14.5px;border-radius:7.25px;background:#0f0a84"></div><div class="t" style="left:-171.05px;width:400px;text-align:center;top:270.88px;font-size:8px;color:#fff;font-weight:700;">1162</div>
<div class="a" style="left:27.6px;top:297.4px;width:15.3px;height:15px;border-radius:7.5px;background:#0f0a84"></div><div class="t" style="left:-164.75px;width:400px;text-align:center;top:301.13px;font-size:8px;color:#fff;font-weight:700;">2</div>
<div class="a" style="left:23.6px;top:327.5px;width:19.3px;height:14.4px;border-radius:7.2px;background:#0f0a84"></div><div class="t" style="left:-166.75px;width:400px;text-align:center;top:330.93px;font-size:8px;color:#fff;font-weight:700;">17</div>
<div class="a" style="left:19px;top:356.9px;width:23.9px;height:14.9px;border-radius:7.45px;background:#0f0a84"></div><div class="t" style="left:-169.05px;width:400px;text-align:center;top:360.58px;font-size:8px;color:#fff;font-weight:700;">141</div>
<div class="a" style="left:47px;top:781px;width:1243px;height:1px;background:#efeff1"></div>
<svg style="left:667px;top:473.4px" width="12" height="16" viewBox="0 0 12 16"><path d="M0.3 0.3 L0.3 10.8 L2.9 8.6 L4.9 13.8 L6.9 13 L4.9 7.9 L8.1 7.6 Z" fill="#0a0a5e" stroke="#e8e8f0" stroke-width="0.5"/></svg>
</body></html>
